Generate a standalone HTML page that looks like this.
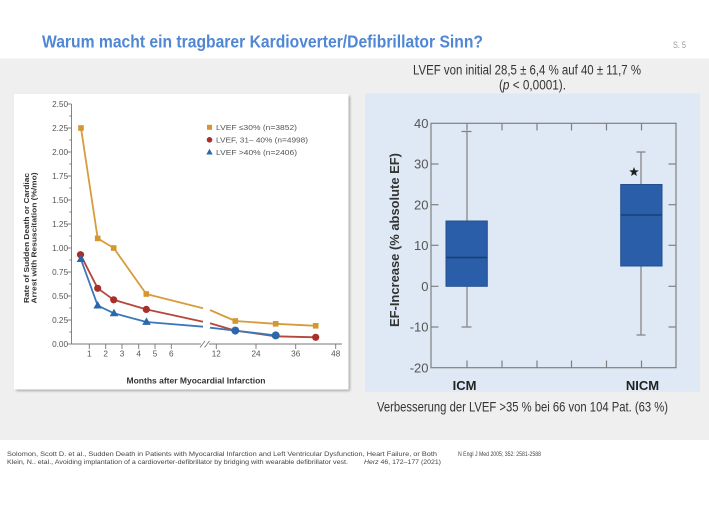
<!DOCTYPE html>
<html><head><meta charset="utf-8"><style>
html,body{margin:0;padding:0;background:#fff;}
svg{display:block;}
text{font-family:"Liberation Sans",Arial,sans-serif;}
</style></head><body>
<svg width="709" height="532" viewBox="0 0 709 532" xmlns="http://www.w3.org/2000/svg">
<defs>
<filter id="sh" x="-5%" y="-5%" width="110%" height="110%"><feGaussianBlur stdDeviation="1.2"/></filter>
</defs>
<rect x="0" y="0" width="709" height="532" fill="#ffffff"/>
<!-- gray band -->
<rect x="0" y="58.5" width="709" height="381.5" fill="#efefef"/>
<!-- title -->
<text x="42" y="47.7" font-size="17.5" font-weight="bold" fill="#4f87d4" textLength="441" lengthAdjust="spacingAndGlyphs">Warum macht ein tragbarer Kardioverter/Defibrillator Sinn?</text>
<text x="673" y="48" font-size="9" fill="#999" textLength="13" lengthAdjust="spacingAndGlyphs">S. 5</text>
<!-- top text -->
<text x="413" y="74.3" font-size="13.5" fill="#333" textLength="228" lengthAdjust="spacingAndGlyphs">LVEF von initial 28,5 ± 6,4 % auf 40 ± 11,7 %</text>
<text x="499" y="89.5" font-size="13.5" fill="#333" textLength="67" lengthAdjust="spacingAndGlyphs">(<tspan font-style="italic">p</tspan> &lt; 0,0001).</text>

<!-- LEFT PANEL -->
<rect x="16" y="96" width="334" height="295" fill="#a8a8a8" filter="url(#sh)"/>
<rect x="14" y="94" width="334.5" height="295.5" fill="#ffffff"/>
<!-- y axis -->
<g stroke="#777" stroke-width="0.9">
<line x1="71.5" y1="104" x2="71.5" y2="344"/>
<line x1="67" y1="104" x2="71.5" y2="104"/>
<line x1="67" y1="128" x2="71.5" y2="128"/>
<line x1="67" y1="152" x2="71.5" y2="152"/>
<line x1="67" y1="176" x2="71.5" y2="176"/>
<line x1="67" y1="200" x2="71.5" y2="200"/>
<line x1="67" y1="224" x2="71.5" y2="224"/>
<line x1="67" y1="248" x2="71.5" y2="248"/>
<line x1="67" y1="272" x2="71.5" y2="272"/>
<line x1="67" y1="296" x2="71.5" y2="296"/>
<line x1="67" y1="320" x2="71.5" y2="320"/>
<line x1="67" y1="344" x2="71.5" y2="344"/>
<line x1="69.3" y1="116" x2="71.5" y2="116"/>
<line x1="69.3" y1="140" x2="71.5" y2="140"/>
<line x1="69.3" y1="164" x2="71.5" y2="164"/>
<line x1="69.3" y1="188" x2="71.5" y2="188"/>
<line x1="69.3" y1="212" x2="71.5" y2="212"/>
<line x1="69.3" y1="236" x2="71.5" y2="236"/>
<line x1="69.3" y1="260" x2="71.5" y2="260"/>
<line x1="69.3" y1="284" x2="71.5" y2="284"/>
<line x1="69.3" y1="308" x2="71.5" y2="308"/>
<line x1="69.3" y1="332" x2="71.5" y2="332"/>
<!-- x axis -->
<line x1="71.5" y1="344" x2="201" y2="344"/>
<line x1="209" y1="344" x2="342" y2="344"/>
<line x1="89.3" y1="344" x2="89.3" y2="349"/>
<line x1="105.7" y1="344" x2="105.7" y2="349"/>
<line x1="122" y1="344" x2="122" y2="349"/>
<line x1="138.7" y1="344" x2="138.7" y2="349"/>
<line x1="155" y1="344" x2="155" y2="349"/>
<line x1="171.3" y1="344" x2="171.3" y2="349"/>
<line x1="216.3" y1="344" x2="216.3" y2="349"/>
<line x1="256" y1="344" x2="256" y2="349"/>
<line x1="295.7" y1="344" x2="295.7" y2="349"/>
<line x1="335.7" y1="344" x2="335.7" y2="349"/>
<line x1="200" y1="347.5" x2="205" y2="341"/>
<line x1="204.5" y1="347.5" x2="209.5" y2="341"/>
</g>
<g font-size="8.2" fill="#555" text-anchor="end">
<text x="68" y="107">2.50</text>
<text x="68" y="131">2.25</text>
<text x="68" y="155">2.00</text>
<text x="68" y="179">1.75</text>
<text x="68" y="203">1.50</text>
<text x="68" y="227">1.25</text>
<text x="68" y="251">1.00</text>
<text x="68" y="275">0.75</text>
<text x="68" y="299">0.50</text>
<text x="68" y="323">0.25</text>
<text x="68" y="347">0.00</text>
</g>
<g font-size="8.2" fill="#555" text-anchor="middle">
<text x="89.3" y="356.7">1</text>
<text x="105.7" y="356.7">2</text>
<text x="122" y="356.7">3</text>
<text x="138.7" y="356.7">4</text>
<text x="155" y="356.7">5</text>
<text x="171.3" y="356.7">6</text>
<text x="216.3" y="356.7">12</text>
<text x="256" y="356.7">24</text>
<text x="295.7" y="356.7">36</text>
<text x="335.7" y="356.7">48</text>
</g>
<text x="196" y="383.5" font-size="8" font-weight="bold" fill="#333" text-anchor="middle" textLength="139" lengthAdjust="spacingAndGlyphs">Months after Myocardial Infarction</text>
<text transform="translate(29,238) rotate(-90)" font-size="7.6" font-weight="bold" fill="#333" text-anchor="middle" textLength="130" lengthAdjust="spacingAndGlyphs">Rate of Sudden Death or Cardiac</text>
<text transform="translate(36.3,238) rotate(-90)" font-size="7.6" font-weight="bold" fill="#333" text-anchor="middle" textLength="131" lengthAdjust="spacingAndGlyphs">Arrest with Resuscitation (%/mo)</text>

<!-- series lines -->
<g fill="none" stroke-width="1.8" stroke-linejoin="round">
<polyline stroke="#d69c3e" points="81,128 97.7,238.4 113.7,248 146.3,294 203,308.3"/>
<polyline stroke="#d69c3e" points="210,310 235.3,321 275.7,323.8 315.7,325.8"/>
<polyline stroke="#b5463c" points="80.5,254.7 97.7,288.3 113.7,299.8 146.3,309.4 203,321.7"/>
<polyline stroke="#b5463c" points="210,323.3 235.3,330.6 275.7,336.3 315.7,337.3"/>
<polyline stroke="#3b78b9" points="81,259.5 97.7,305.6 114,313.3 146.5,322 203,326.7"/>
<polyline stroke="#3b78b9" points="210,327.7 235.3,330.6 275.7,335.4"/>
</g>
<!-- markers -->
<g fill="#d4962f">
<rect x="78.2" y="125.2" width="5.6" height="5.6"/>
<rect x="94.9" y="235.6" width="5.6" height="5.6"/>
<rect x="110.9" y="245.2" width="5.6" height="5.6"/>
<rect x="143.5" y="291.2" width="5.6" height="5.6"/>
<rect x="232.5" y="318.2" width="5.6" height="5.6"/>
<rect x="272.9" y="321" width="5.6" height="5.6"/>
<rect x="312.9" y="323" width="5.6" height="5.6"/>
</g>
<g fill="#a8302a">
<circle cx="80.5" cy="254.7" r="3.6"/>
<circle cx="97.7" cy="288.3" r="3.6"/>
<circle cx="113.7" cy="299.8" r="3.6"/>
<circle cx="146.3" cy="309.4" r="3.6"/>
<circle cx="315.7" cy="337.3" r="3.6"/>
</g>
<g fill="#2d67ab">
<polygon points="81,254.5 76.7,262 85.3,262"/>
<polygon points="97.7,301 93.4,308.5 102,308.5"/>
<polygon points="114,308.7 109.7,316.2 118.3,316.2"/>
<polygon points="146.5,317.4 142.2,324.9 150.8,324.9"/>
<circle cx="235.3" cy="330.6" r="4"/>
<circle cx="275.7" cy="335.4" r="4"/>
</g>
<!-- legend -->
<rect x="207" y="124.8" width="5" height="5" fill="#d4962f"/>
<circle cx="209.5" cy="139.8" r="2.8" fill="#a8302a"/>
<polygon points="209.5,148.8 206.3,154.5 212.7,154.5" fill="#2d67ab"/>
<g font-size="7.6" fill="#555">
<text x="216" y="130.2" textLength="81" lengthAdjust="spacingAndGlyphs">LVEF ≤30% (n=3852)</text>
<text x="216" y="142.6" textLength="92" lengthAdjust="spacingAndGlyphs">LVEF, 31– 40% (n=4998)</text>
<text x="216" y="155" textLength="81" lengthAdjust="spacingAndGlyphs">LVEF &gt;40% (n=2406)</text>
</g>

<!-- RIGHT PANEL -->
<rect x="365" y="93.5" width="335" height="298.2" fill="#dee9f5"/>
<g stroke="#808080" stroke-width="1.2" fill="none">
<rect x="431" y="123.3" width="245" height="244.4"/>
<line x1="467" y1="123.3" x2="467" y2="130.5"/>
<line x1="502" y1="123.3" x2="502" y2="130.5"/>
<line x1="537" y1="123.3" x2="537" y2="130.5"/>
<line x1="571.5" y1="123.3" x2="571.5" y2="130.5"/>
<line x1="606.5" y1="123.3" x2="606.5" y2="130.5"/>
<line x1="641.5" y1="123.3" x2="641.5" y2="130.5"/>
<line x1="467" y1="360.5" x2="467" y2="367.7"/>
<line x1="502" y1="360.5" x2="502" y2="367.7"/>
<line x1="537" y1="360.5" x2="537" y2="367.7"/>
<line x1="571.5" y1="360.5" x2="571.5" y2="367.7"/>
<line x1="606.5" y1="360.5" x2="606.5" y2="367.7"/>
<line x1="641.5" y1="360.5" x2="641.5" y2="367.7"/>
<line x1="431" y1="164" x2="438.5" y2="164"/>
<line x1="431" y1="204.7" x2="438.5" y2="204.7"/>
<line x1="431" y1="245.3" x2="438.5" y2="245.3"/>
<line x1="431" y1="286.3" x2="438.5" y2="286.3"/>
<line x1="431" y1="327" x2="438.5" y2="327"/>
<line x1="668.5" y1="164" x2="676" y2="164"/>
<line x1="668.5" y1="204.7" x2="676" y2="204.7"/>
<line x1="668.5" y1="245.3" x2="676" y2="245.3"/>
<line x1="668.5" y1="286.3" x2="676" y2="286.3"/>
<line x1="668.5" y1="327" x2="676" y2="327"/>
<!-- whiskers -->
<line x1="467" y1="131.5" x2="467" y2="221"/>
<line x1="467" y1="286.3" x2="467" y2="327"/>
<line x1="461.5" y1="131.5" x2="471.5" y2="131.5"/>
<line x1="461.5" y1="327" x2="471.5" y2="327"/>
<line x1="641" y1="152" x2="641" y2="184.5"/>
<line x1="641" y1="266" x2="641" y2="335"/>
<line x1="636.5" y1="152" x2="645.5" y2="152"/>
<line x1="636.5" y1="335" x2="645.5" y2="335"/>
</g>
<!-- boxes -->
<rect x="446" y="221" width="41.3" height="65.3" fill="#2b5ea8" stroke="#234f8f" stroke-width="1"/>
<line x1="446" y1="257.5" x2="487.3" y2="257.5" stroke="#1b3e72" stroke-width="1.5"/>
<rect x="620.7" y="184.5" width="41.3" height="81.5" fill="#2b5ea8" stroke="#234f8f" stroke-width="1"/>
<line x1="620.7" y1="215" x2="662" y2="215" stroke="#1b3e72" stroke-width="1.5"/>
<polygon points="634,167 635.23,170.3 638.76,170.45 636,172.65 636.94,176.05 634,174.1 631.06,176.05 632,172.65 629.24,170.45 632.77,170.3" fill="#222"/>
<!-- labels -->
<g font-size="13" fill="#555" text-anchor="end">
<text x="428.5" y="128">40</text>
<text x="428.5" y="168.7">30</text>
<text x="428.5" y="209.4">20</text>
<text x="428.5" y="250">10</text>
<text x="428.5" y="291">0</text>
<text x="428.5" y="331.7">-10</text>
<text x="428.5" y="372.4">-20</text>
</g>
<text transform="translate(399,240) rotate(-90)" font-size="12.9" font-weight="bold" fill="#333" text-anchor="middle" textLength="174" lengthAdjust="spacingAndGlyphs">EF-Increase (% absolute EF)</text>
<text x="464.5" y="389.8" font-size="13" font-weight="bold" fill="#222" text-anchor="middle">ICM</text>
<text x="642.5" y="389.8" font-size="13" font-weight="bold" fill="#222" text-anchor="middle">NICM</text>
<text x="377" y="411.7" font-size="13.5" fill="#333" textLength="291" lengthAdjust="spacingAndGlyphs">Verbesserung der LVEF &gt;35 % bei 66 von 104 Pat. (63 %)</text>

<!-- references -->
<g font-size="6.6" fill="#444">
<text x="7" y="456" textLength="430" lengthAdjust="spacingAndGlyphs">Solomon, Scott D. et al., Sudden Death in Patients with Myocardial Infarction and Left Ventricular Dysfunction, Heart Failure, or Both</text>
<text x="458" y="456" textLength="83" lengthAdjust="spacingAndGlyphs">N Engl J Med 2005; 352: 2581-2588</text>
<text x="7" y="464" textLength="341" lengthAdjust="spacingAndGlyphs">Klein, N.. etal., Avoiding implantation of a cardioverter-defibrillator by bridging with wearable defibrillator vest.</text>
<text x="364" y="464" textLength="77" lengthAdjust="spacingAndGlyphs"><tspan font-style="italic">Herz</tspan> 46, 172–177 (2021)</text>
</g>
</svg>
</body></html>
